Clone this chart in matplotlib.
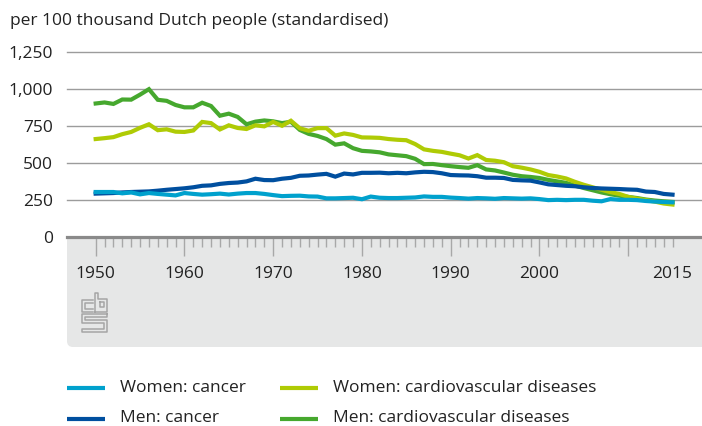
import matplotlib
matplotlib.use("Agg")
import matplotlib.pyplot as plt
from matplotlib.patches import FancyBboxPatch
from matplotlib.lines import Line2D
import numpy as np

plt.rcParams['font.family'] = ['Open Sans', 'DejaVu Sans']

years = np.arange(1950, 2016)

women_cancer = [303, 303, 303, 294, 300, 287, 296, 290, 285, 280,
                296, 290, 285, 288, 292, 286, 292, 296, 296, 290,
                282, 275, 277, 278, 273, 272, 260, 260, 262, 264,
                254, 272, 264, 262, 262, 264, 266, 273, 270, 270,
                265, 262, 258, 262, 260, 257, 262, 260, 258, 260,
                255, 248, 250, 248, 250, 250, 244, 240, 255, 250,
                250, 248, 242, 238, 235, 233]
men_cancer = [292, 294, 296, 300, 303, 305, 307, 312, 318, 323,
              328, 335, 345, 348, 358, 364, 367, 375, 393, 384,
              383, 393, 399, 413, 415, 421, 426, 407, 428, 422,
              433, 433, 434, 430, 433, 430, 436, 440, 438, 430,
              418, 416, 415, 410, 400, 400, 398, 385, 382, 380,
              368, 355, 350, 345, 342, 335, 330, 327, 325, 323,
              320, 318, 306, 303, 290, 285]
women_cardio = [662, 668, 675, 695, 710, 738, 762, 722, 728, 712,
                710, 720, 778, 770, 727, 755, 737, 730, 755, 748,
                778, 752, 786, 735, 718, 736, 736, 685, 700, 690,
                673, 672, 670, 662, 657, 654, 628, 592, 582, 575,
                563, 552, 530, 553, 520, 515, 505, 478, 468, 456,
                440, 418, 408, 395, 372, 352, 335, 318, 302, 290,
                270, 258, 248, 238, 225, 218]
men_cardio = [903, 910, 900, 930, 929, 963, 1000, 928, 921, 893,
              877, 877, 908, 886, 820, 834, 812, 762, 780, 788,
              782, 770, 779, 724, 697, 683, 662, 624, 633, 600,
              582, 578, 572, 558, 552, 546, 528, 492, 493, 485,
              478, 472, 467, 485, 456, 449, 435, 420, 410, 405,
              398, 385, 375, 365, 347, 330, 315, 300, 288, 278,
              270, 262, 252, 245, 240, 236]

series = [("Men: cardiovascular diseases", men_cardio, "#46a82e"),
          ("Women: cardiovascular diseases", women_cardio, "#afcb05"),
          ("Men: cancer", men_cancer, "#004f9f"),
          ("Women: cancer", women_cancer, "#00a1cd")]

y_ticks = [0, 250, 500, 750, 1000, 1250]
y_labels = ["0", "250", "500", "750", "1,000", "1,250"]
x_ticks = [1950, 1960, 1970, 1980, 1990, 2000, 2010, 2015]
x_labels = ["1950", "1960", "1970", "1980", "1990", "2000", "", "2015"]

W, H = 702, 426
text_col = "#222222"
fs = 12.5

fig = plt.figure(figsize=(W / 100, H / 100), dpi=100)
ax = fig.add_axes([67 / W, (H - 236.7) / H, 1 - 67 / W, (236.7 - 52.3) / H])

# grey band under the x axis
band = FancyBboxPatch((67, 79), 700, 121, boxstyle="round,pad=0,rounding_size=6",
                      transform=None, fc="#e6e7e7", ec="none", zorder=-1)
fig.add_artist(band)

for label, vals, col in series:
    ax.plot(years, vals, color=col, lw=3, solid_joinstyle="miter", label=label)

ax.set_xlim(1946.77, 2018.32)
ax.set_ylim(0, 1250)
for s in ax.spines.values():
    s.set_visible(False)

for yv in y_ticks[1:]:
    ax.axhline(yv, color="#9c9c9c", lw=1, zorder=0, clip_on=False)
ax.axhline(0, color="#8a8a8a", lw=2.3, zorder=3, clip_on=False)

ax.set_yticks(y_ticks)
ax.set_yticklabels(y_labels)
ax.tick_params(axis="y", length=0, pad=10, labelsize=fs, labelcolor=text_col)

ax.set_xticks(x_ticks)
ax.set_xticklabels(x_labels)
ax.set_xticks(years, minor=True)
ax.tick_params(axis="x", which="major", length=14, width=1, color="#a8a8a8",
               pad=7, labelsize=fs, labelcolor=text_col)
ax.tick_params(axis="x", which="minor", length=7, width=1, color="#a8a8a8")
ax.xaxis.get_major_ticks()[-1].tick1line.set_markersize(7)

fig.text(10 / W, 1 - 25 / H, "per 100 thousand Dutch people (standardised)",
         fontsize=fs, color=text_col, va="baseline")

# cbs logo, drawn with thin grey lines (pixel coords from top)
logo = [
    [(93, 300), (82, 300), (82, 312), (93, 312)],
    [(93, 303), (85, 303), (85, 309), (93, 309)],
    [(95, 312), (95, 293), (98, 293), (98, 299), (107, 299), (107, 312), (95, 312)],
    [(100, 302), (104, 302), (104, 307), (100, 307), (100, 302)],
    [(107, 314), (82, 314), (82, 323), (104, 323), (104, 329), (82, 329),
     (82, 332), (107, 332), (107, 320), (85, 320), (85, 317), (107, 317), (107, 314)],
]
for pts in logo:
    xs = [p[0] for p in pts]
    ys = [H - p[1] for p in pts]
    fig.add_artist(Line2D(xs, ys, transform=None, color="#a5a5a5", lw=1.1))

# legend, two columns
legend_items = [("Women: cancer", "#00a1cd", 67, 388, 391.5),
                ("Women: cardiovascular diseases", "#afcb05", 280, 388, 391.5),
                ("Men: cancer", "#004f9f", 67, 419, 421.5),
                ("Men: cardiovascular diseases", "#46a82e", 280, 419, 421.5)]
for label, col, x0, yl, yb in legend_items:
    fig.add_artist(Line2D([x0, x0 + 38], [H - yl, H - yl], transform=None,
                          color=col, lw=3, solid_capstyle="butt"))
    fig.text((x0 + 53) / W, 1 - yb / H, label, fontsize=fs, color=text_col,
             va="baseline")

fig.savefig("out.png", dpi=100)
